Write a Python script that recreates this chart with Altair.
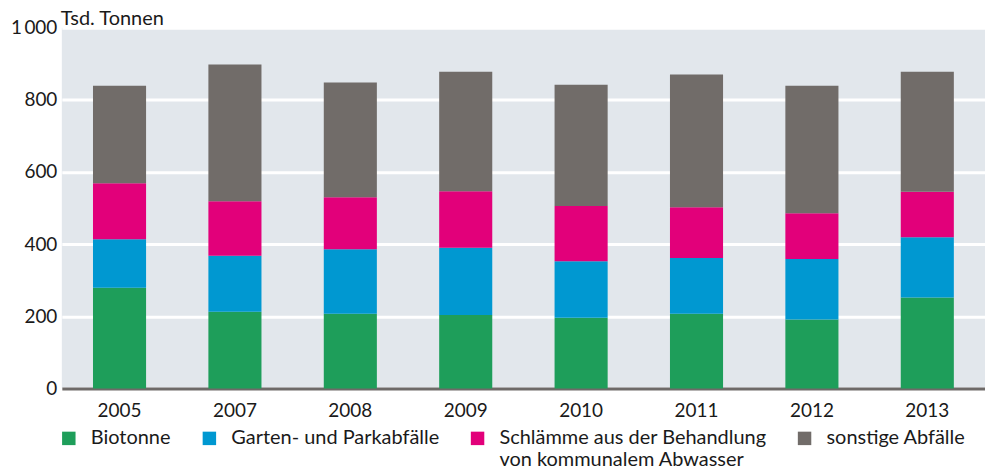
import altair as alt
import pandas as pd

years = ["2005", "2007", "2008", "2009", "2010", "2011", "2012", "2013"]
categories = [
    "Biotonne",
    "Garten- und Parkabfälle",
    "Schlämme aus der Behandlung von kommunalem Abwasser",
    "sonstige Abfälle",
]
biotonne = [279, 213, 207, 204, 196, 207, 191, 252]
garten = [135, 155, 179, 186, 157, 155, 168, 167]
schlaemme = [155, 151, 144, 157, 153, 140, 127, 126]
sonstige = [270, 379, 318, 331, 336, 368, 353, 333]
colors = ["#1e9e5a", "#0098d1", "#e2007a", "#716c69"]

series = [biotonne, garten, schlaemme, sonstige]
rows = []
for ci, (cat, vals) in enumerate(zip(categories, series)):
    for y, v in zip(years, vals):
        rows.append({"Jahr": y, "Kategorie": cat, "Wert": v, "idx": ci})
df = pd.DataFrame(rows)

FONT = "Lato"

chart = (
    alt.Chart(df, title=alt.Title("Tsd. Tonnen", anchor="start", frame="group",
                                  fontSize=20, fontWeight="normal", font=FONT,
                                  color="#1a1a1a", offset=-10, dx=-1))
    .mark_bar()
    .encode(
        x=alt.X("Jahr:N", sort=years,
                scale=alt.Scale(paddingInner=0.54, paddingOuter=0.27),
                axis=alt.Axis(title=None, labelAngle=0, ticks=False,
                              domainColor="#6e6a68", domainWidth=3,
                              labelPadding=13, labelFontSize=19)),
        y=alt.Y("sum(Wert):Q",
                scale=alt.Scale(domain=[0, 1000]),
                axis=alt.Axis(title=None, values=[0, 200, 400, 600, 800, 1000],
                              ticks=False, domain=False, gridColor="white",
                              gridWidth=3, labelPadding=5, labelFontSize=19,
                              minExtent=54, maxExtent=54,
                              labelExpr="datum.value == 1000 ? '1\u2009000' : datum.label")),
        color=alt.Color("Kategorie:N", sort=categories,
                        scale=alt.Scale(domain=categories, range=colors),
                        legend=alt.Legend(
                            title=None, orient="none", legendX=-3, legendY=402,
                            direction="horizontal", columns=4, gridAlign="none",
                            columnPadding=28, symbolType="square", symbolSize=182,
                            symbolStrokeWidth=0, labelOffset=12, labelFontSize=20,
                            labelFont=FONT, labelColor="#1a1a1a",
                            labelLimit=400,
                            labelExpr="datum.label == 'Schlämme aus der Behandlung von kommunalem Abwasser' ? ['Schlämme aus der Behandlung', 'von kommunalem Abwasser'] : datum.label")),
        order=alt.Order("idx:Q", sort="ascending"),
    )
    .properties(width=926, height=362, background="white", padding=0)
    .configure_view(fill="#e2e7ec", strokeWidth=0)
    .configure_axis(labelFont=FONT, labelColor="#1a1a1a")
)

chart.save("out.html", embed_options={"renderer": "svg", "actions": False})
